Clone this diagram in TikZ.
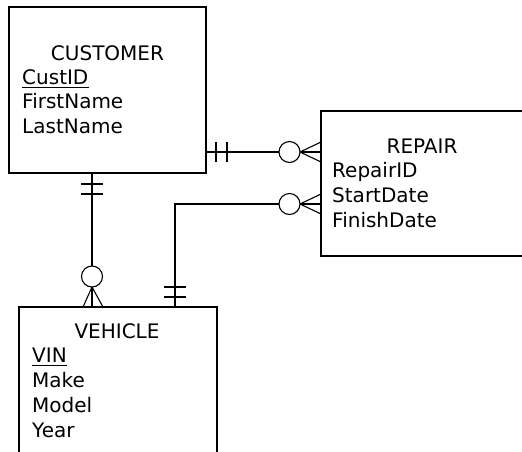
\documentclass[tikz,border=0pt]{standalone}
\usepackage{fontspec}
\setmainfont{DejaVu Sans}
\usetikzlibrary{calc}
\tikzset{
	entity/.style={draw, line width=1.5pt, rectangle, inner sep=0pt, outer sep=0pt, anchor=north west},
	field/.style={inner sep=0pt, anchor=base west, font=\fontsize{20}{25}\selectfont},
	title/.style={inner sep=0pt, anchor=base, font=\fontsize{20}{25}\selectfont},
	rel/.style={line width=1.1pt},
	hole/.style={rel, fill=white},
}

\begin{document}
\begin{tikzpicture}[x=1pt, y=-1pt]
	\useasboundingbox (0, 0) rectangle (522, 451);
	\clip (0, 0) rectangle (522, 451);
	% entities
	\node [entity, minimum width=197pt, minimum height=166pt] (cust) at (9, 7) {};
	\node [entity, minimum width=203pt, minimum height=145pt] (rep) at (321, 111) {};
	\node [entity, minimum width=198pt, minimum height=172pt] (veh) at (19, 307) {};
	\node [title] (custtitle) at (107.5, 60) {CUSTOMER};
	\node [title] (reptitle) at (422, 153) {REPAIR};
	\node [title] (vehtitle) at (117, 338) {VEHICLE};
	\node [field] (custkey) at (22, 84) {CustID};
	\draw [line width=1pt] ([yshift=-3.5pt]custkey.base west) -- ([yshift=-3.5pt]custkey.base east);
	\foreach \f [count=\i] in {FirstName,LastName}
		\node [field] (cust\i) at (22, 84 + 24.5 * \i) {\f};
	\foreach \f [count=\i] in {RepairID,StartDate,FinishDate}
		\node [field] (rep\i) at (332, 177 + 25 * \i - 25) {\f};
	\node [field] (vehkey) at (32, 362) {VIN};
	\draw [line width=1pt] ([yshift=-3.5pt]vehkey.base west) -- ([yshift=-3.5pt]vehkey.base east);
	\foreach \f [count=\i] in {Make,Model,Year}
		\node [field] (veh\i) at (32, 362 + 25 * \i) {\f};
	% customer -- vehicle
	\coordinate (cv) at ($(cust.south west) + (83, 0)$);
	\coordinate (vc) at (cv |- veh.north);
	\draw [rel] (cv) -- (vc);
	\draw [rel] ($(cv) + (-11, 11)$) -- ++(22, 0);
	\draw [rel] ($(cv) + (-11, 21)$) -- ++(22, 0);
	\draw [rel] ($(vc) + (-9, 0)$) -- ++(9, -20) -- ++(11, 20);
	\draw [hole] ($(vc) + (0, -30.5)$) circle [radius=10.5pt];
	% customer -- repair
	\coordinate (cr) at ($(cust.north east) + (0, 145)$);
	\coordinate (rc) at (cr -| rep.west);
	\draw [rel] (cr) -- (rc);
	\draw [rel] ($(cr) + (10, -10)$) -- ++(0, 20);
	\draw [rel] ($(cr) + (21, -10)$) -- ++(0, 20);
	\draw [rel] ($(rc) + (0, -10)$) -- ++(-21, 10) -- ++(21, 10);
	\draw [hole] ($(rc) + (-31.5, 0)$) circle [radius=10.5pt];
	% vehicle -- repair
	\coordinate (vr) at ($(veh.north west) + (156, 0)$);
	\coordinate (rv) at ($(rep.north west) + (0, 93)$);
	\draw [rel] (vr) |- (rv);
	\draw [rel] ($(vr) + (-11, -10)$) -- ++(22, 0);
	\draw [rel] ($(vr) + (-11, -20)$) -- ++(22, 0);
	\draw [rel] ($(rv) + (0, -10)$) -- ++(-21, 10) -- ++(21, 10);
	\draw [hole] ($(rv) + (-31.5, 0)$) circle [radius=10.5pt];
\end{tikzpicture}
\end{document}
